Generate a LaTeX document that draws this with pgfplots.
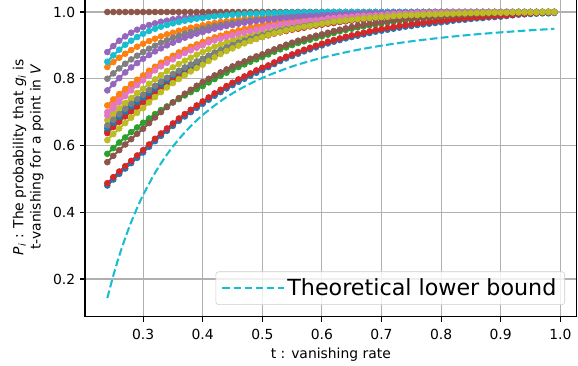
\documentclass[border=0pt]{standalone}
\usepackage{fontspec}
\setmainfont{DejaVu Sans}
\usepackage{pgfplots}
\pgfplotsset{compat=1.18}
\usepackage{pgfplotstable}
\definecolor{tabblue}{HTML}{1F77B4}
\definecolor{taborange}{HTML}{FF7F0E}
\definecolor{tabgreen}{HTML}{2CA02C}
\definecolor{tabred}{HTML}{D62728}
\definecolor{tabpurple}{HTML}{9467BD}
\definecolor{tabbrown}{HTML}{8C564B}
\definecolor{tabpink}{HTML}{E377C2}
\definecolor{tabgray}{HTML}{7F7F7F}
\definecolor{tabolive}{HTML}{BCBD22}
\definecolor{tabcyan}{HTML}{17BECF}
\pgfplotstableread{
t b1 o1 g1 r1 p1 bra pk1 gy1 ol1 c b2 o2 g2 r2 p2 brb pk2 gy2 ol2
0.24 0.480 0.835 0.643 0.637 0.880 1 0.700 0.800 0.676 0.851 0.652 0.720 0.575 0.487 0.765 0.550 0.690 0.660 0.616
0.25 0.498 0.850 0.661 0.655 0.898 1 0.721 0.816 0.694 0.870 0.669 0.738 0.592 0.505 0.784 0.569 0.711 0.677 0.634
0.26 0.515 0.863 0.677 0.671 0.914 1 0.740 0.831 0.711 0.887 0.686 0.754 0.609 0.522 0.802 0.586 0.730 0.694 0.651
0.27 0.531 0.875 0.693 0.687 0.927 1 0.758 0.845 0.727 0.902 0.702 0.769 0.624 0.538 0.819 0.603 0.748 0.710 0.667
0.28 0.547 0.886 0.708 0.702 0.938 1 0.775 0.858 0.742 0.914 0.717 0.784 0.640 0.554 0.834 0.619 0.765 0.725 0.683
0.29 0.563 0.896 0.722 0.716 0.947 1 0.791 0.869 0.757 0.925 0.731 0.797 0.654 0.570 0.847 0.635 0.781 0.739 0.698
0.30 0.579 0.905 0.736 0.730 0.955 1 0.805 0.880 0.770 0.935 0.744 0.810 0.668 0.586 0.860 0.650 0.795 0.752 0.712
0.31 0.596 0.913 0.752 0.746 0.961 1 0.819 0.890 0.785 0.943 0.758 0.824 0.681 0.603 0.871 0.667 0.810 0.766 0.729
0.32 0.613 0.920 0.767 0.761 0.966 1 0.832 0.899 0.798 0.950 0.771 0.836 0.694 0.620 0.882 0.684 0.825 0.779 0.745
0.33 0.629 0.927 0.781 0.775 0.971 1 0.844 0.908 0.811 0.956 0.783 0.848 0.706 0.636 0.891 0.700 0.837 0.791 0.760
0.34 0.644 0.933 0.794 0.788 0.974 1 0.855 0.915 0.823 0.961 0.795 0.859 0.717 0.651 0.900 0.715 0.848 0.803 0.774
0.35 0.659 0.938 0.806 0.800 0.978 1 0.865 0.923 0.834 0.966 0.810 0.869 0.729 0.666 0.908 0.729 0.858 0.814 0.787
0.36 0.674 0.944 0.818 0.812 0.981 1 0.875 0.929 0.844 0.970 0.820 0.879 0.739 0.681 0.916 0.742 0.868 0.824 0.799
0.37 0.687 0.948 0.829 0.823 0.983 1 0.884 0.935 0.854 0.974 0.830 0.887 0.750 0.694 0.923 0.755 0.877 0.834 0.811
0.38 0.700 0.953 0.839 0.833 0.985 1 0.892 0.940 0.863 0.977 0.839 0.896 0.760 0.707 0.929 0.767 0.885 0.843 0.822
0.39 0.713 0.956 0.849 0.843 0.987 1 0.900 0.945 0.872 0.980 0.848 0.903 0.769 0.720 0.935 0.779 0.893 0.852 0.832
0.40 0.725 0.960 0.858 0.852 0.989 1 0.907 0.950 0.880 0.982 0.856 0.910 0.778 0.732 0.940 0.790 0.900 0.860 0.842
0.41 0.737 0.964 0.868 0.862 0.991 1 0.914 0.954 0.888 0.985 0.865 0.917 0.789 0.744 0.945 0.800 0.909 0.869 0.853
0.42 0.749 0.967 0.877 0.871 0.992 1 0.920 0.958 0.896 0.987 0.874 0.924 0.799 0.756 0.950 0.810 0.915 0.878 0.864
0.43 0.760 0.970 0.885 0.879 0.993 1 0.925 0.961 0.903 0.989 0.882 0.929 0.809 0.767 0.954 0.819 0.920 0.886 0.874
0.44 0.771 0.972 0.893 0.887 0.994 1 0.930 0.964 0.909 0.990 0.890 0.935 0.818 0.778 0.958 0.828 0.925 0.894 0.883
0.45 0.781 0.975 0.899 0.895 0.995 1 0.935 0.967 0.915 0.992 0.900 0.940 0.827 0.788 0.961 0.837 0.930 0.901 0.891
0.46 0.791 0.977 0.905 0.902 0.996 1 0.940 0.969 0.921 0.993 0.907 0.945 0.835 0.798 0.965 0.845 0.935 0.908 0.899
0.47 0.800 0.979 0.910 0.908 0.997 1 0.944 0.972 0.926 0.994 0.913 0.949 0.843 0.807 0.968 0.852 0.939 0.914 0.906
0.48 0.809 0.981 0.916 0.914 0.997 1 0.948 0.974 0.931 0.995 0.919 0.953 0.851 0.816 0.970 0.860 0.943 0.920 0.913
0.49 0.818 0.983 0.922 0.920 0.998 1 0.952 0.976 0.936 0.995 0.924 0.957 0.858 0.825 0.973 0.867 0.947 0.925 0.919
0.50 0.826 0.984 0.927 0.925 0.998 1 0.955 0.978 0.940 0.996 0.929 0.960 0.865 0.833 0.975 0.873 0.950 0.930 0.925
0.51 0.835 0.986 0.932 0.930 0.999 1 0.959 0.980 0.944 0.997 0.934 0.964 0.873 0.840 0.977 0.881 0.956 0.935 0.931
0.52 0.844 0.987 0.937 0.935 0.999 1 0.962 0.982 0.948 0.997 0.938 0.967 0.881 0.849 0.979 0.888 0.959 0.939 0.936
0.53 0.853 0.989 0.941 0.939 0.999 1 0.965 0.984 0.952 0.998 0.943 0.970 0.888 0.858 0.981 0.895 0.962 0.944 0.940
0.54 0.861 0.990 0.945 0.943 0.999 1 0.968 0.985 0.956 0.998 0.947 0.972 0.894 0.866 0.983 0.902 0.965 0.948 0.945
0.55 0.868 0.991 0.949 0.947 0.999 1 0.970 0.987 0.959 0.999 0.950 0.975 0.901 0.873 0.984 0.908 0.967 0.951 0.949
0.56 0.875 0.992 0.952 0.950 1 1 0.972 0.988 0.962 0.999 0.954 0.977 0.907 0.880 0.986 0.914 0.969 0.955 0.953
0.57 0.882 0.993 0.955 0.953 1 1 0.975 0.989 0.965 0.999 0.957 0.979 0.912 0.887 0.987 0.919 0.972 0.958 0.956
0.58 0.888 0.994 0.959 0.957 1 1 0.977 0.990 0.967 0.999 0.960 0.981 0.917 0.893 0.988 0.924 0.974 0.961 0.959
0.59 0.894 0.994 0.961 0.959 1 1 0.978 0.991 0.970 0.999 0.962 0.983 0.922 0.899 0.989 0.929 0.975 0.963 0.962
0.60 0.900 0.995 0.964 0.962 1 1 0.980 0.992 0.972 1 0.965 0.984 0.927 0.905 0.990 0.933 0.977 0.966 0.965
0.61 0.906 0.996 0.967 0.965 1 1 0.982 0.993 0.974 1 0.969 0.986 0.932 0.911 0.991 0.938 0.981 0.969 0.968
0.62 0.911 0.996 0.969 0.967 1 1 0.983 0.994 0.976 1 0.971 0.987 0.937 0.916 0.992 0.943 0.982 0.971 0.971
0.63 0.916 0.997 0.972 0.970 1 1 0.985 0.995 0.978 1 0.973 0.989 0.942 0.921 0.993 0.947 0.984 0.973 0.973
0.64 0.921 0.997 0.974 0.972 1 1 0.986 0.995 0.980 1 0.975 0.990 0.946 0.926 0.994 0.951 0.985 0.975 0.975
0.65 0.925 0.998 0.976 0.974 1 1 0.987 0.996 0.982 1 0.977 0.991 0.950 0.930 0.995 0.955 0.986 0.977 0.977
0.66 0.929 0.998 0.978 0.976 1 1 0.989 0.997 0.983 1 0.979 0.992 0.954 0.934 0.995 0.959 0.988 0.979 0.979
0.67 0.933 0.998 0.980 0.978 1 1 0.990 0.997 0.985 1 0.981 0.993 0.957 0.938 0.996 0.962 0.989 0.981 0.981
0.68 0.937 0.999 0.981 0.979 1 1 0.990 0.997 0.986 1 0.982 0.994 0.960 0.942 0.996 0.965 0.989 0.982 0.982
0.69 0.941 0.999 0.983 0.981 1 1 0.991 0.998 0.987 1 0.984 0.994 0.963 0.946 0.997 0.967 0.990 0.984 0.984
0.70 0.944 0.999 0.984 0.982 1 1 0.992 0.998 0.988 1 0.985 0.995 0.966 0.949 0.997 0.970 0.991 0.985 0.985
0.71 0.947 0.999 0.985 0.983 1 1 0.993 0.998 0.989 1 0.986 0.996 0.969 0.952 0.997 0.972 0.993 0.986 0.986
0.72 0.950 0.999 0.987 0.985 1 1 0.994 0.999 0.990 1 0.988 0.996 0.971 0.955 0.998 0.975 0.994 0.988 0.988
0.73 0.953 0.999 0.988 0.986 1 1 0.995 0.999 0.991 1 0.989 0.997 0.973 0.958 0.998 0.977 0.995 0.989 0.989
0.74 0.956 0.999 0.989 0.987 1 1 0.995 0.999 0.992 1 0.990 0.997 0.975 0.961 0.998 0.979 0.995 0.990 0.990
0.75 0.958 0.999 0.990 0.988 1 1 0.996 0.999 0.993 1 0.991 0.998 0.977 0.963 0.999 0.980 0.996 0.991 0.991
0.76 0.961 1 0.991 0.989 1 1 0.997 1 0.994 1 0.991 0.998 0.979 0.966 0.999 0.982 0.997 0.991 0.991
0.77 0.963 1 0.992 0.990 1 1 0.997 1 0.994 1 0.992 0.998 0.981 0.968 0.999 0.983 0.997 0.992 0.992
0.78 0.965 1 0.993 0.991 1 1 0.997 1 0.995 1 0.993 0.999 0.982 0.970 0.999 0.985 0.997 0.993 0.993
0.79 0.967 1 0.993 0.991 1 1 0.998 1 0.996 1 0.993 0.999 0.984 0.972 1 0.986 0.998 0.993 0.993
0.80 0.969 1 0.994 0.992 1 1 0.998 1 0.996 1 0.994 0.999 0.985 0.974 1 0.987 0.998 0.994 0.994
0.81 0.971 1 0.995 0.993 1 1 0.998 1 0.997 1 0.995 0.999 0.987 0.975 1 0.988 0.998 0.995 0.995
0.82 0.974 1 0.996 0.994 1 1 0.999 1 0.997 1 0.996 0.999 0.988 0.978 1 0.990 0.999 0.996 0.995
0.83 0.976 1 0.997 0.995 1 1 0.999 1 0.998 1 0.997 0.999 0.989 0.980 1 0.991 0.999 0.997 0.996
0.84 0.977 1 0.997 0.995 1 1 0.999 1 0.998 1 0.997 0.999 0.990 0.981 1 0.992 0.999 0.997 0.996
0.85 0.979 1 0.998 0.996 1 1 0.999 1 0.998 1 0.998 0.999 0.991 0.983 1 0.993 0.999 0.998 0.997
0.86 0.981 1 0.998 0.997 1 1 1 1 0.999 1 0.998 1 0.992 0.984 1 0.994 1 0.998 0.997
0.87 0.982 1 0.998 0.997 1 1 1 1 0.999 1 0.998 1 0.993 0.985 1 0.994 1 0.998 0.997
0.88 0.984 1 0.998 0.997 1 1 1 1 0.999 1 0.999 1 0.994 0.987 1 0.995 1 0.999 0.998
0.89 0.985 1 0.999 0.998 1 1 1 1 0.999 1 0.999 1 0.994 0.988 1 0.996 1 0.999 0.998
0.90 0.986 1 0.999 0.998 1 1 1 1 0.999 1 0.999 1 0.995 0.989 1 0.996 1 0.999 0.998
0.91 0.988 1 0.999 0.998 1 1 1 1 0.999 1 0.999 1 0.996 0.990 1 0.997 1 0.999 0.998
0.92 0.990 1 0.999 0.999 1 1 1 1 0.999 1 0.999 1 0.997 0.992 1 0.998 1 0.999 0.999
0.93 0.992 1 0.999 0.999 1 1 1 1 0.999 1 1 1 0.998 0.994 1 0.998 1 1 0.999
0.94 0.993 1 0.999 0.999 1 1 1 1 1 1 1 1 0.998 0.995 1 0.999 1 1 0.999
0.95 0.994 1 0.999 0.999 1 1 1 1 1 1 1 1 0.999 0.996 1 0.999 1 1 0.999
0.96 0.995 1 1 1 1 1 1 1 1 1 1 1 0.999 0.997 1 0.999 1 1 0.999
0.97 0.996 1 1 1 1 1 1 1 1 1 1 1 0.999 0.998 1 0.999 1 1 1
0.98 0.996 1 1 1 1 1 1 1 1 1 1 1 0.999 0.998 1 1 1 1 1
0.99 0.997 1 1 1 1 1 1 1 1 1 1 1 1 0.999 1 1 1 1 1
}\data
\pgfplotsset{ser/.style={color=#1, line width=1.5pt, mark=*, mark size=2.1pt,
  mark options={solid, line width=0.5pt, fill=#1}, forget plot}}
\begin{document}
\begin{tikzpicture}
\begin{axis}[
  scale only axis, width=354pt, height=229.9pt,
  xmin=0.2025, xmax=1.0275, ymin=0.0865, ymax=1.0435,
  xtick={0.3,0.4,0.5,0.6,0.7,0.8,0.9,1.0},
  ytick={0.2,0.4,0.6,0.8,1.0},
  /pgf/number format/assume math mode=true,
  /pgf/number format/.cd, fixed, fixed zerofill, precision=1, /pgfplots/.cd,
  tick label style={font=\fontsize{10}{12}\selectfont, black},
  xticklabel style={yshift=-2pt},
  grid=major, grid style={color=black!31, line width=0.8pt},
  tick align=outside, major tick length=3.5pt,
  tick style={black, line width=0.8pt},
  axis line style={line width=0.8pt},
  xtick pos=bottom, ytick pos=left,
  xlabel={t : vanishing rate},
  xlabel style={font=\fontsize{10}{12}\selectfont, yshift=1pt},
  ylabel={\textit{P}\textsubscript{\textit{i}} : The probability that \textit{g}\textsubscript{\textit{i}} is\\t-vanishing for a point in \textit{V}},
  ylabel style={font=\fontsize{10}{12.5}\selectfont, align=center},
  legend style={at={(1,0)}, anchor=south east, xshift=-8.4pt, yshift=8.6pt,
    draw=black!20, rounded corners=2pt, fill=white, fill opacity=0.8, text opacity=1,
    font=\fontsize{16}{19}\selectfont, inner xsep=4pt, inner ysep=3pt},
  legend cell align=left,
  legend image code/.code={\path (0pt,0pt) -- (44pt,0pt); \draw[#1] (0pt,0pt) -- (31pt,0pt);},
]
\coordinate (bbsw) at (axis cs:0.0599,-0.0607);
\coordinate (bbne) at (axis cs:1.0297,1.036);
\addplot[ser=tabblue] table[x=t,y=b1] {\data};
\addplot[ser=taborange] table[x=t,y=o1] {\data};
\addplot[ser=tabgreen] table[x=t,y=g1] {\data};
\addplot[ser=tabred] table[x=t,y=r1] {\data};
\addplot[ser=tabpurple] table[x=t,y=p1] {\data};
\addplot[ser=tabbrown] table[x=t,y=bra] {\data};
\addplot[ser=tabpink] table[x=t,y=pk1] {\data};
\addplot[ser=tabgray] table[x=t,y=gy1] {\data};
\addplot[ser=tabolive] table[x=t,y=ol1] {\data};
\addplot[ser=tabcyan] table[x=t,y=c] {\data};
\addplot[ser=tabblue] table[x=t,y=b2] {\data};
\addplot[ser=taborange] table[x=t,y=o2] {\data};
\addplot[ser=tabgreen] table[x=t,y=g2] {\data};
\addplot[ser=tabred] table[x=t,y=r2] {\data};
\addplot[ser=tabpurple] table[x=t,y=p2] {\data};
\addplot[ser=tabbrown] table[x=t,y=brb] {\data};
\addplot[ser=tabpink] table[x=t,y=pk2] {\data};
\addplot[ser=tabgray] table[x=t,y=gy2] {\data};
\addplot[ser=tabolive] table[x=t,y=ol2] {\data};
\addplot[color=tabcyan, line width=1.5pt, dash pattern=on 5.55pt off 2.4pt, smooth] coordinates {
(0.24,0.1427) (0.25,0.2099) (0.26,0.2695) (0.27,0.3226) (0.28,0.3702) (0.29,0.4128)
(0.30,0.4513) (0.32,0.5178) (0.34,0.5728) (0.36,0.6190) (0.38,0.6580) (0.40,0.6914)
(0.43,0.7329) (0.46,0.7666) (0.50,0.8025) (0.55,0.8368) (0.60,0.8628) (0.65,0.8831)
(0.70,0.8992) (0.75,0.9122) (0.80,0.9228) (0.85,0.9317) (0.90,0.9390) (0.95,0.9453) (0.99,0.9496)};
\addlegendentry{Theoretical lower bound}
\end{axis}
\pgfresetboundingbox
\useasboundingbox (bbsw) rectangle (bbne);
\end{tikzpicture}
\end{document}
